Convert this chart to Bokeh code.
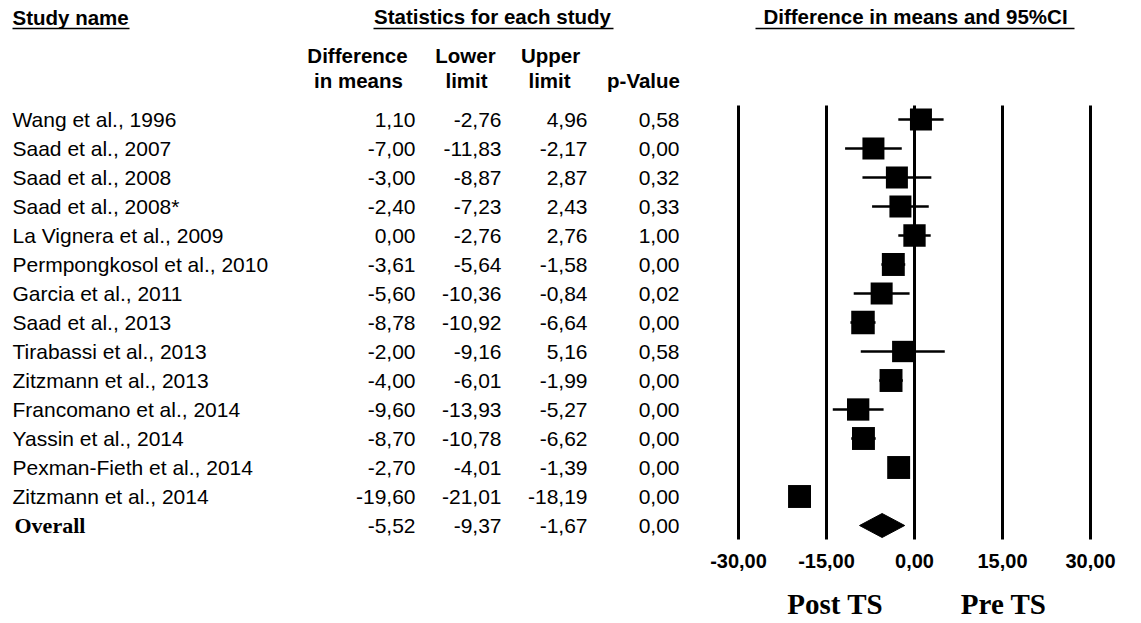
from bokeh.plotting import figure
from bokeh.models import Range1d
from bokeh.core.properties import value
from bokeh.embed import file_html
from bokeh.resources import INLINE

# ---------------- data ----------------
studies = ["Wang et al., 1996", "Saad et al., 2007", "Saad et al., 2008",
           "Saad et al., 2008*", "La Vignera et al., 2009", "Permpongkosol et al., 2010",
           "Garcia et al., 2011", "Saad et al., 2013", "Tirabassi et al., 2013",
           "Zitzmann et al., 2013", "Francomano et al., 2014", "Yassin et al., 2014",
           "Pexman-Fieth et al., 2014", "Zitzmann et al., 2014"]
diff = [1.10, -7.00, -3.00, -2.40, 0.00, -3.61, -5.60, -8.78, -2.00, -4.00, -9.60, -8.70, -2.70, -19.60]
lower = [-2.76, -11.83, -8.87, -7.23, -2.76, -5.64, -10.36, -10.92, -9.16, -6.01, -13.93, -10.78, -4.01, -21.01]
upper = [4.96, -2.17, 2.87, 2.43, 2.76, -1.58, -0.84, -6.64, 5.16, -1.99, -5.27, -6.62, -1.39, -18.19]
pval = [0.58, 0.00, 0.32, 0.33, 1.00, 0.00, 0.02, 0.00, 0.58, 0.00, 0.00, 0.00, 0.00, 0.00]
weights = [7.0, 7.0, 7.0, 7.0, 7.2, 7.6, 7.0, 8.0, 6.6, 7.6, 7.2, 7.6, 7.6, 7.6]
overall_label = "Overall"
overall_diff, overall_lower, overall_upper, overall_p = -5.52, -9.37, -1.67, 0.00
ticks = [-30, -15, 0, 15, 30]
tick_labels = ["-30,00", "-15,00", "0,00", "15,00", "30,00"]
side_labels = ["Post TS", "Pre TS"]
side_label_pos = [-13.5, 15.2]   # in effect units

# ---------------- geometry helpers ----------------
W, H = 1136, 623
ROW0, ROWH = 119, 29        # px of first row, row spacing
K, ZX = 88 / 15, 914        # px per unit, px of zero


def ry(py):
    return (py - ROW0) / ROWH


def fmt(v):
    return f"{v:.2f}".replace(".", ",")


p = figure(width=W, height=H, output_backend="svg", toolbar_location=None,
           x_range=Range1d(0, W), y_range=Range1d(ry(H), ry(0)),
           x_axis_location=None, y_axis_location=None,
           min_border_left=0, min_border_right=0, min_border_top=0,
           min_border_bottom=0)
p.extra_x_ranges = {"eff": Range1d((0 - ZX) / K, (W - ZX) / K)}
p.outline_line_color = None
p.xgrid.visible = False
p.ygrid.visible = False
p.background_fill_color = "white"
p.border_fill_color = "white"

SANS = value("Liberation Sans")
SERIF = value("Liberation Serif")

n = len(studies)
rows = list(range(n))
all_rows = rows + [n]

# ---------------- table ----------------
p.text(x=12, y=rows, text=studies, text_font=SANS, text_font_size="21px",
       text_baseline="middle", text_align="left", text_color="black")
p.text(x=14, y=[n], text=[overall_label], text_font=SERIF, text_font_size="22px",
       text_font_style="bold", text_baseline="middle", text_align="left", text_color="black")

cols = [diff + [overall_diff], lower + [overall_lower], upper + [overall_upper], pval + [overall_p]]
col_right = [415, 501, 587, 679]
for vals, xr in zip(cols, col_right):
    p.text(x=xr, y=all_rows, text=[fmt(v) for v in vals], text_font=SANS,
           text_font_size="21px", text_baseline="middle", text_align="right",
           text_color="black")

# headers
hdr = dict(text_font=SANS, text_font_size="20.5px", text_font_style="bold",
           text_baseline="middle", text_color="black")
p.text(x=[12], y=[ry(17)], text=["Study name"], text_align="left", **hdr)
p.text(x=[492], y=[ry(16)], text=["Statistics for each study"], text_align="center", **hdr)
p.text(x=[915], y=[ry(16)], text=["Difference in means and 95%CI"], text_align="center", **hdr)
p.segment(x0=[12, 373, 755], x1=[129, 613, 1074], y0=[ry(28)] * 3, y1=[ry(28)] * 3,
          line_color="black", line_width=1.6)
p.text(x=[357, 465, 550], y=[ry(55)] * 3, text=["Difference", "Lower", "Upper"],
       text_align="center", **hdr)
p.text(x=[358, 466, 549, 643], y=[ry(80)] * 4, text=["in means", "limit", "limit", "p-Value"],
       text_align="center", **hdr)

# ---------------- forest plot ----------------
p.segment(x0=ticks, x1=ticks, y0=[ry(105)] * len(ticks), y1=[ry(539)] * len(ticks),
          x_range_name="eff", line_color="black", line_width=3, line_cap="butt")
p.segment(x0=lower, x1=upper, y0=rows, y1=rows, x_range_name="eff",
          line_color="black", line_width=2.6)
sizes = [22 * (w / 7.0) ** 0.5 for w in weights]
p.scatter(x=diff, y=rows, size=sizes, marker="square", x_range_name="eff",
          fill_color="black", line_color="black", line_width=0)
h = 12 / ROWH
p.patch(x=[overall_lower, overall_diff, overall_upper, overall_diff],
        y=[n, n - h, n, n + h], x_range_name="eff",
        fill_color="black", line_color="black", line_width=1)

# tick labels of the effect scale
p.text(x=ticks, y=[ry(560)] * len(ticks), text=tick_labels, x_range_name="eff",
       text_font=SANS, text_font_size="20px", text_font_style="bold",
       text_align="center", text_baseline="middle", text_color="black")

# side labels
p.text(x=side_label_pos, y=[ry(603)] * 2, text=side_labels, x_range_name="eff",
       text_font=SERIF, text_font_size="29px", text_font_style="bold",
       text_align="center", text_baseline="middle", text_color="black")

open("out.html", "w").write(file_html(p, INLINE))
